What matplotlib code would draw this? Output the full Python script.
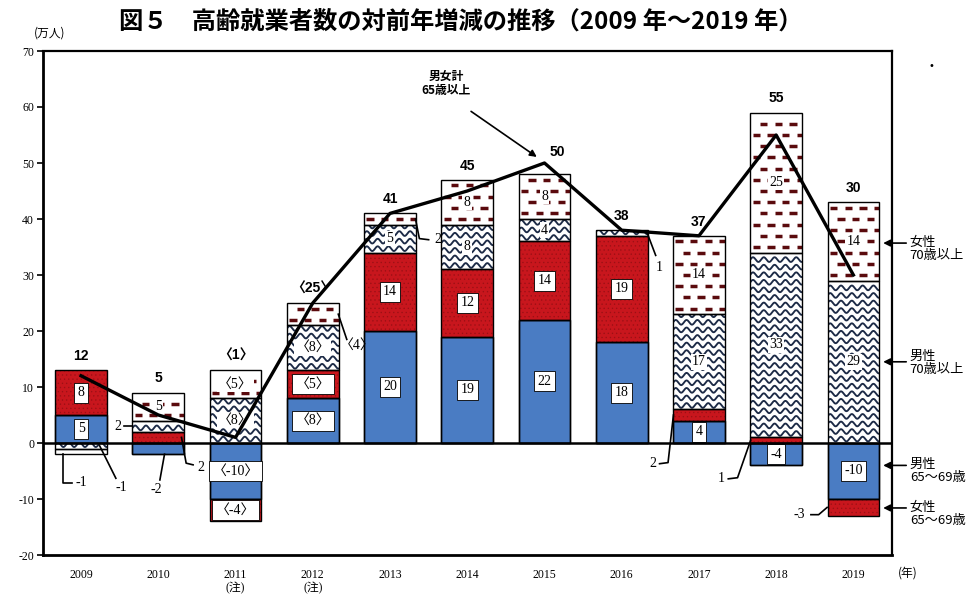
import matplotlib.pyplot as plt
import numpy as np
from matplotlib.collections import LineCollection

plt.rcParams['axes.unicode_minus'] = False
plt.rcParams['hatch.linewidth'] = 0.45

JP = ['Noto Sans CJK JP', 'DejaVu Sans']
NUM = ['Liberation Serif', 'Noto Sans CJK JP']

years = ['2009', '2010', '2011', '2012', '2013', '2014', '2015', '2016', '2017', '2018', '2019']
year_notes = ['', '', '(注)', '(注)', '', '', '', '', '', '', '']
men_65_69 = [5, -2, -10, 8, 20, 19, 22, 18, 4, -4, -10]
women_65_69 = [8, 2, -4, 5, 14, 12, 14, 19, 2, 1, -3]
men_70_over = [-1, 2, 8, 8, 5, 8, 4, 1, 17, 33, 29]
women_70_over = [-1, 5, 5, 4, 2, 8, 8, 0, 14, 25, 14]
total_65_over = [12, 5, 1, 25, 41, 45, 50, 38, 37, 55, 30]
# 2011, 2012 are reference values (shown in brackets)
bracketed = [False, False, True, True, False, False, False, False, False, False, False]

BLUE = '#4a7cc3'
RED = '#c8161d'
RED_DOT = '#9c1015'
WAVE = '#1c2a46'
DASH = '#5a0a0d'
W = 0.67

fig = plt.figure(figsize=(9.71, 5.94), dpi=100)
ax = fig.add_axes([42.5 / 971, 1 - 555 / 594, 849.5 / 971, 504 / 594])
ax.set_xlim(-0.5, 10.5)
ax.set_ylim(-20, 70)

x = np.arange(len(years))


def fmt(v, br):
    return f'〈{v}〉' if br else f'{v}'


def add_waves(patch, x0, x1, lo, hi):
    xs = np.linspace(x0, x1, 240)
    y = lo + 0.7
    while y < hi:
        ln, = ax.plot(xs, y + 0.42 * np.sin(2 * np.pi * (xs - x0) / 0.14),
                      color=WAVE, lw=1.35, zorder=3)
        ln.set_clip_path(patch)
        y += 1.35


def add_dashes(patch, x0, x1, lo, hi):
    segs = []
    row = 0
    y = lo + 1.0
    while y < hi:
        off = 0.0 if row % 2 == 0 else 0.095
        for xa in np.arange(x0 + 0.03 + off, x1, 0.19):
            segs.append([(xa, y), (xa + 0.095, y)])
        y += 2.0
        row += 1
    lc = LineCollection(segs, colors=DASH, linewidths=2.5, zorder=3)
    ax.add_collection(lc)
    lc.set_clip_path(patch)


series = [(men_65_69, 'blue'), (women_65_69, 'red'), (men_70_over, 'wave'), (women_70_over, 'dash')]
# segments labelled by a leader line instead of inside the bar
leaders = {(0, 2), (0, 3), (1, 0), (1, 1), (1, 2), (3, 3), (4, 3), (7, 2), (8, 1), (9, 1), (10, 1)}

pos = np.zeros(len(years))
neg = np.zeros(len(years))
for si, (vals, kind) in enumerate(series):
    for i, v in enumerate(vals):
        if v == 0:
            continue
        base = pos[i] if v > 0 else neg[i]
        if kind == 'blue':
            b = ax.bar(x[i], v, W, bottom=base, color=BLUE, edgecolor='black', lw=1, zorder=2)
        elif kind == 'red':
            b = ax.bar(x[i], v, W, bottom=base, color=RED, edgecolor=RED_DOT, hatch='....', lw=0, zorder=2)
        else:
            b = ax.bar(x[i], v, W, bottom=base, color='white', lw=0, zorder=2)
        patch = b.patches[0]
        lo, hi = sorted([base, base + v])
        if kind == 'wave':
            add_waves(patch, x[i] - W / 2, x[i] + W / 2, lo, hi)
        elif kind == 'dash':
            add_dashes(patch, x[i] - W / 2, x[i] + W / 2, lo, hi)
        ax.bar(x[i], v, W, bottom=base, fill=False, edgecolor='black', lw=1, zorder=4)
        if (i, si) not in leaders:
            if kind in ('blue', 'red'):
                box = dict(boxstyle='square,pad=0.25', fc='white', ec='black', lw=0.6)
            else:
                box = dict(boxstyle='square,pad=0.1', fc='white', ec='none')
            ax.text(x[i], base + v / 2, fmt(v, bracketed[i]), ha='center', va='center',
                    fontsize=10, family=NUM, bbox=box, zorder=5)
        if v > 0:
            pos[i] += v
        else:
            neg[i] += v

ax.axhline(0, color='black', lw=1.8, zorder=5)

# total line
ax.plot(x, total_65_over, color='black', lw=2.4, zorder=6)
for i, t in enumerate(total_65_over):
    tx, ty = x[i], pos[i] + 1.3
    if i == 6:
        tx, ty = x[i] + 0.17, t + 0.8
    ax.text(tx, ty, fmt(t, bracketed[i]), ha='center', va='bottom', fontsize=10,
            fontweight='bold', family=['Liberation Sans', 'Noto Sans CJK JP'], zorder=7)

ax.text(4.73, 64.2, '男女計\n65歳以上', ha='center', va='center', fontsize=8.5,
        fontweight='bold', family=JP, linespacing=1.1)
ax.annotate('', xy=(5.93, 50.8), xytext=(5.02, 59.5),
            arrowprops=dict(arrowstyle='-|>', color='black', lw=1.2, mutation_scale=10))

# leader lines for thin segments
leader_lines = [
    ([(-0.24, -2), (-0.24, -7.1), (-0.12, -7.1)], (0.0, -7.1), '-1'),
    ([(0.24, -0.5), (0.45, -6.3)], (0.52, -8.0), '-1'),
    ([(0.56, 3.0), (0.66, 3.0)], (0.48, 3.0), '2'),
    ([(1.3, 1.0), (1.36, -3.6), (1.45, -3.9)], (1.55, -4.4), '2'),
    ([(1.08, -2.0), (1.02, -6.6)], (0.97, -8.3), '-2'),
    ([(3.33, 23.0), (3.44, 18.5)], (3.58, 17.4), '〈4〉'),
    ([(4.33, 40.0), (4.38, 36.5), (4.5, 36.3)], (4.62, 36.3), '2'),
    ([(7.33, 37.5), (7.44, 33.5)], (7.48, 31.3), '1'),
    ([(7.67, 5.0), (7.6, -3.5), (7.49, -3.7)], (7.4, -3.7), '2'),
    ([(8.67, 0.5), (8.5, -6.2), (8.38, -6.4)], (8.29, -6.4), '1'),
    ([(9.66, -11.5), (9.55, -12.8), (9.45, -12.8)], (9.3, -12.8), '-3'),
]
for pts, (lx, ly), lab in leader_lines:
    px, py = zip(*pts)
    ax.plot(px, py, color='black', lw=1.2, zorder=6, clip_on=False)
    ax.text(lx, ly, lab, ha='center', va='center', fontsize=10, family=NUM, zorder=7)

# series names on the right
side = [
    ('女性\n70歳以上', 34.6, 35.7),
    ('男性\n70歳以上', 14.3, 14.5),
    ('男性\n65～69歳', -5.0, -4.0),
    ('女性\n65～69歳', -12.7, -11.6),
]
for lab, ty, ay in side:
    ax.text(10.73, ty, lab, ha='left', va='center', fontsize=9.5, family=JP,
            linespacing=1.05, clip_on=False)
    ax.annotate('', xy=(10.35, ay), xytext=(10.72, ay), annotation_clip=False,
                arrowprops=dict(arrowstyle='-|>', color='black', lw=1.2, mutation_scale=10))

ax.set_xticks(x)
ax.set_xticklabels([y + ('\n' + n if n else '') for y, n in zip(years, year_notes)],
                   family=NUM, fontsize=8.5, linespacing=1.1)
ax.tick_params(axis='x', length=0, pad=10)
ax.set_yticks(np.arange(-20, 71, 10))
ax.set_yticklabels([str(v) for v in range(-20, 71, 10)], family=NUM, fontsize=8.5)
ax.tick_params(axis='y', direction='out', length=4, width=1.2, pad=2)
for s in ax.spines.values():
    s.set_linewidth(1.6)
ax.spines['left'].set_linewidth(2)
ax.spines['bottom'].set_linewidth(2)

fig.text(0.474, 1 - 22 / 594, '図５　高齢就業者数の対前年増減の推移（2009 年～2019 年）',
         ha='center', va='center', fontsize=17.5, fontweight='bold', family=JP)
fig.text(50 / 971, 1 - 33 / 594, '(万人)', ha='center', va='center', fontsize=8.5, family=JP)
fig.text(908 / 971, 1 - 573 / 594, '(年)', ha='center', va='center', fontsize=8.5, family=JP)
fig.text(931 / 971, 1 - 66 / 594, '•', ha='center', va='center', fontsize=7)

fig.savefig('out.png', dpi=100)
